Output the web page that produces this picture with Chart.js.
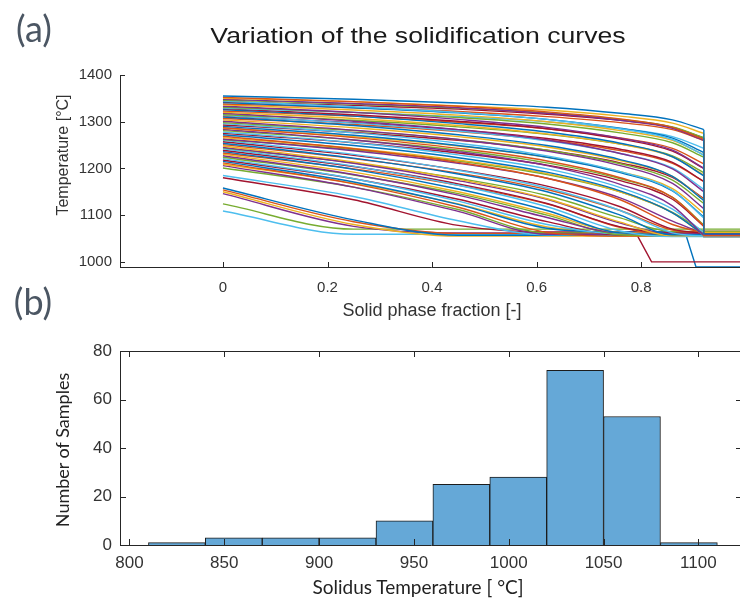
<!DOCTYPE html>
<html>
<head>
<meta charset="utf-8">
<script src="https://cdn.jsdelivr.net/npm/chart.js@4.4.1/dist/chart.umd.min.js"></script>
<style>
  html, body { margin: 0; padding: 0; overflow: hidden; background: #fff; }
  #wrap { position: relative; width: 740px; height: 599px; }
  canvas { position: absolute; left: 0; }
  .lbl { position: absolute; white-space: nowrap; transform: translate(-50%, -50%); }
  .panel { font-family: Lato, "Open Sans", sans-serif; font-size: 36px; color: #4b5663; }
</style>
</head>
<body>
<div id="wrap">
  <canvas id="curves" width="750" height="300" style="top:0"></canvas>
  <canvas id="hist" width="750" height="269" style="top:330px"></canvas>

  <div class="lbl panel" style="left:34px; top:28px">(a)</div>
  <div class="lbl panel" style="left:33px; top:301px">(b)</div>
  <div class="lbl" style="left:418px; top:36px; font:22px 'Liberation Sans', Arial, sans-serif; color:#1a1a1a; transform:translate(-50%,-50%) scaleX(1.21)">Variation of the solidification curves</div>
  <div class="lbl" style="left:63px; top:155px; font:16px 'Liberation Sans', Arial, sans-serif; color:#333; transform:translate(-50%,-50%) rotate(-90deg)">Temperature [°C]</div>
  <div class="lbl" style="left:432px; top:310px; font:18px 'Liberation Sans', Arial, sans-serif; color:#333">Solid phase fraction [-]</div>
  <div class="lbl" style="left:62px; top:450px; font:18px Lato, sans-serif; color:#222; transform:translate(-50%,-50%) rotate(-90deg)">Number of Samples</div>
  <div class="lbl" style="left:418px; top:586px; font:19px Lato, sans-serif; color:#222">Solidus Temperature [ °C]</div>
</div>

<script>
// (a) solidification curves: temperature at each solid fraction
const fracGrid = [0, 0.25, 0.45, 0.62, 0.76, 0.86, 0.92];
const tailEnd = 1.0;

const curveTemps = [
  [1355, 1348, 1340, 1331, 1318, 1304, 1283],
  [1352, 1343, 1333, 1321, 1306, 1288, 1262],
  [1350, 1343, 1334, 1325, 1312, 1297, 1275],
  [1348, 1339, 1330, 1318, 1303, 1286, 1260],
  [1346, 1338, 1329, 1319, 1305, 1289, 1266],
  [1344, 1332, 1320, 1305, 1285, 1262, 1228],
  [1343, 1335, 1327, 1316, 1303, 1288, 1265],
  [1341, 1330, 1319, 1305, 1286, 1265, 1234],
  [1338, 1330, 1322, 1311, 1298, 1283, 1260],
  [1336, 1325, 1314, 1300, 1281, 1260, 1229],
  [1333, 1320, 1305, 1288, 1265, 1239, 1200],
  [1331, 1320, 1309, 1295, 1276, 1255, 1224],
  [1329, 1320, 1311, 1300, 1285, 1268, 1243],
  [1328, 1315, 1301, 1285, 1263, 1237, 1200],
  [1326, 1312, 1296, 1278, 1254, 1225, 1184],
  [1323, 1312, 1299, 1285, 1265, 1243, 1210],
  [1320, 1307, 1292, 1274, 1252, 1225, 1186],
  [1318, 1301, 1283, 1261, 1232, 1199, 1150],
  [1315, 1303, 1289, 1273, 1252, 1227, 1191],
  [1313, 1297, 1280, 1259, 1232, 1201, 1155],
  [1312, 1298, 1283, 1264, 1241, 1213, 1172],
  [1310, 1292, 1272, 1249, 1219, 1183, 1131],
  [1307, 1294, 1279, 1261, 1238, 1211, 1172],
  [1304, 1287, 1268, 1246, 1217, 1183, 1133],
  [1301, 1282, 1262, 1237, 1206, 1168, 1114],
  [1298, 1281, 1262, 1239, 1210, 1175, 1125],
  [1296, 1276, 1254, 1227, 1193, 1153, 1094],
  [1293, 1277, 1260, 1239, 1212, 1181, 1135],
  [1290, 1271, 1249, 1224, 1191, 1152, 1096],
  [1287, 1266, 1243, 1216, 1180, 1138, 1077],
  [1286, 1268, 1248, 1224, 1193, 1157, 1104],
  [1284, 1261, 1236, 1206, 1166, 1120, 1056],
  [1281, 1261, 1239, 1212, 1178, 1138, 1079],
  [1278, 1255, 1229, 1199, 1159, 1113, 1063],
  [1275, 1255, 1233, 1207, 1174, 1134, 1076],
  [1272, 1249, 1223, 1192, 1152, 1105, 1058],
  [1269, 1242, 1213, 1179, 1133, 1080, 1062],
  [1266, 1243, 1218, 1189, 1150, 1105, 1057],
  [1263, 1238, 1211, 1179, 1137, 1087, 1060],
  [1262, 1240, 1216, 1187, 1150, 1106, 1064],
  [1260, 1230, 1196, 1158, 1110, 1062, 1055],
  [1257, 1228, 1197, 1162, 1118, 1070, 1061],
  [1254, 1222, 1188, 1150, 1100, 1058, 1058],
  [1251, 1221, 1190, 1155, 1110, 1068, 1063],
  [1248, 1214, 1177, 1135, 1085, 1056, 1056],
  [1245, 1211, 1174, 1134, 1083, 1060, 1060],
  [1244, 1212, 1179, 1142, 1094, 1065, 1065],
  [1242, 1205, 1164, 1118, 1066, 1054, 1054],
  [1239, 1204, 1167, 1125, 1075, 1062, 1062],
  [1236, 1198, 1156, 1110, 1062, 1059, 1059],
  [1233, 1199, 1164, 1124, 1074, 1057, 1057],
  [1230, 1192, 1150, 1104, 1063, 1061, 1061],
  [1227, 1187, 1143, 1095, 1063, 1063, 1063],
  [1224, 1186, 1146, 1100, 1058, 1056, 1056],
  [1221, 1178, 1130, 1080, 1060, 1060, 1060],
  [1218, 1178, 1134, 1086, 1058, 1058, 1058],
  [1215, 1171, 1123, 1072, 1064, 1064, 1064],
  [1212, 1167, 1117, 1063, 1055, 1055, 1055],
  [1209, 1168, 1124, 1075, 1061, 1061, 1061],
  [1206, 1160, 1108, 1059, 1059, 1059, 1059],
  [1201, 1160, 1112, 1062, 1062, 1062, 1062],
  [1185, 1140, 1088, 1058, 1058, 1058, 1058],
  [1180, 1133, 1078, 1064, 1064, 1064, 1064],
  [1158, 1090, 1057, 1057, 1057, 1057, 1057],
  [1154, 1086, 1061, 1061, 1061, 1061, 1061],
  [1150, 1080, 1055, 1055, 1055, 1055, 1055],
  [1146, 1076, 1062, 1062, 1062, 1062, 1062],
  [1124, 1070, 1070, 1070, 1070, 1070, 1070],
  [1109, 1059, 1059, 1059, 1059, 1059, 1059]
];

// solidus plateau of each curve
const solidus = [
  1060, 1056, 1063, 1058, 1065, 1054, 1061, 1057, 1062, 1059,
  1055, 1064, 1060, 1057, 1062, 1056, 1060, 1065, 1054, 1061,
  1058, 1063, 1056, 1060, 1064, 1057, 1061, 1055, 1062, 1059,
  1065, 1056, 1060, 1063, 1054, 1058, 1062, 1057, 1060, 1064,
  1055, 1061, 1058, 1063, 1056, 1060, 1065, 1054, 1062, 1059,
  1057, 1061, 1063, 1056, 1060, 1058, 1064, 1055, 1061, 1059,
  1062, 1058, 1064, 1057, 1061, 1055, 1062, 1070, 1059
];

// two curves that fall below the plateau at the end
const redDropF = [0.79, 0.82, 1.0];
const redDropT = [1062, 1000, 1000];
const blueDropF = [0.885, 0.905, 1.0];
const blueDropT = [1060, 989, 989];

const tempTicks = [1000, 1100, 1200, 1300, 1400];
const fracTicks = [0, 0.2, 0.4, 0.6, 0.8];

// (b) histogram of solidus temperature
const binEdges = [810, 840, 870, 900, 930, 960, 990, 1020, 1050, 1080, 1110];
const binCounts = [1, 3, 3, 3, 10, 25, 28, 72, 53, 1];
const solidusTicks = [800, 850, 900, 950, 1000, 1050, 1100];

const palette = ['#0072BD', '#D95319', '#EDB120', '#7E2F8E', '#77AC30', '#4DBEEE', '#A2142F'];
const axisColor = '#262626';
const tickFont = "'Liberation Sans', Arial, sans-serif";

// inward tick marks (MATLAB style), optional box
const innerTicks = {
  id: 'innerTicks',
  afterDatasetsDraw(chart, args, opts) {
    const {ctx, chartArea: a, scales} = chart;
    const x = scales.x, y = scales.y;
    ctx.save();
    ctx.strokeStyle = axisColor;
    ctx.lineWidth = 1;
    ctx.beginPath();
    x.ticks.forEach(t => {
      const px = Math.round(x.getPixelForValue(t.value)) + 0.5;
      ctx.moveTo(px, a.bottom);
      ctx.lineTo(px, a.bottom - opts.len);
      if (opts.box) {
        ctx.moveTo(px, a.top);
        ctx.lineTo(px, a.top + opts.len);
      }
    });
    y.ticks.forEach(t => {
      const py = Math.round(y.getPixelForValue(t.value)) + 0.5;
      ctx.moveTo(a.left, py);
      ctx.lineTo(a.left + opts.len, py);
      if (opts.box) {
        ctx.moveTo(a.right, py);
        ctx.lineTo(a.right - opts.len, py);
      }
    });
    if (opts.box) {
      ctx.moveTo(a.left, a.top + 0.5);
      ctx.lineTo(a.right, a.top + 0.5);
      ctx.moveTo(a.right - 0.5, a.top);
      ctx.lineTo(a.right - 0.5, a.bottom);
    }
    ctx.stroke();
    ctx.restore();
  }
};

// build line datasets
const curveSets = [];
curveTemps.forEach((temps, i) => {
  const color = palette[i % palette.length];
  const lastF = fracGrid[fracGrid.length - 1];
  curveSets.push({
    data: fracGrid.map((f, j) => ({x: f, y: temps[j]})),
    borderColor: color,
    cubicInterpolationMode: 'monotone'
  });
  curveSets.push({
    data: [{x: lastF, y: temps[temps.length - 1]}, {x: lastF, y: solidus[i]}, {x: tailEnd, y: solidus[i]}],
    borderColor: color,
    tension: 0
  });
});
curveSets.push({data: redDropF.map((f, j) => ({x: f, y: redDropT[j]})), borderColor: '#A2142F', tension: 0});
curveSets.push({data: blueDropF.map((f, j) => ({x: f, y: blueDropT[j]})), borderColor: '#0072BD', tension: 0});

new Chart(document.getElementById('curves').getContext('2d'), {
  type: 'line',
  data: {datasets: curveSets},
  options: {
    responsive: false,
    animation: false,
    devicePixelRatio: 1,
    layout: {padding: {top: 75, right: 8, bottom: 0, left: 0}},
    elements: {point: {radius: 0}, line: {borderWidth: 1.4}},
    plugins: {legend: {display: false}, tooltip: {enabled: false}, innerTicks: {len: 5, box: false}},
    scales: {
      x: {
        type: 'linear', min: -0.197, max: 0.993,
        afterBuildTicks: s => { s.ticks = fracTicks.map(v => ({value: v})); },
        afterFit: s => { s.height = 33; },
        grid: {display: false, drawTicks: false},
        border: {display: true, color: axisColor},
        ticks: {padding: 12, color: '#333', font: {family: tickFont, size: 15}, callback: v => String(v)}
      },
      y: {
        min: 989, max: 1400,
        afterBuildTicks: s => { s.ticks = tempTicks.map(v => ({value: v})); },
        afterFit: s => { s.width = 120; },
        grid: {display: false, drawTicks: false},
        border: {display: true, color: axisColor},
        ticks: {padding: 8, color: '#333', font: {family: tickFont, size: 15}, callback: v => String(v)}
      }
    }
  },
  plugins: [innerTicks]
});

// histogram
const binCenters = binCounts.map((c, i) => (binEdges[i] + binEdges[i + 1]) / 2);

new Chart(document.getElementById('hist').getContext('2d'), {
  type: 'bar',
  data: {
    datasets: [{
      data: binCenters.map((c, i) => ({x: c, y: binCounts[i]})),
      backgroundColor: '#65A8D7',
      borderColor: '#1c1c1c',
      borderWidth: 1,
      barPercentage: 1,
      categoryPercentage: 1
    }]
  },
  options: {
    responsive: false,
    animation: false,
    devicePixelRatio: 1,
    layout: {padding: {top: 21, right: 8, bottom: 0, left: 0}},
    plugins: {legend: {display: false}, tooltip: {enabled: false}, innerTicks: {len: 6, box: true}},
    scales: {
      x: {
        type: 'linear', min: 795, max: 1123, offset: false,
        afterBuildTicks: s => { s.ticks = solidusTicks.map(v => ({value: v})); },
        afterFit: s => { s.height = 54; },
        grid: {display: false, drawTicks: false},
        border: {display: true, color: axisColor},
        ticks: {padding: 8, color: '#333', font: {family: tickFont, size: 17}, callback: v => String(v)}
      },
      y: {
        min: 0, max: 80,
        ticks: {stepSize: 20, padding: 8, color: '#333', font: {family: tickFont, size: 17}, callback: v => String(v)},
        afterFit: s => { s.width = 120; },
        grid: {display: false, drawTicks: false},
        border: {display: true, color: axisColor}
      }
    }
  },
  plugins: [innerTicks]
});
</script>
</body>
</html>
